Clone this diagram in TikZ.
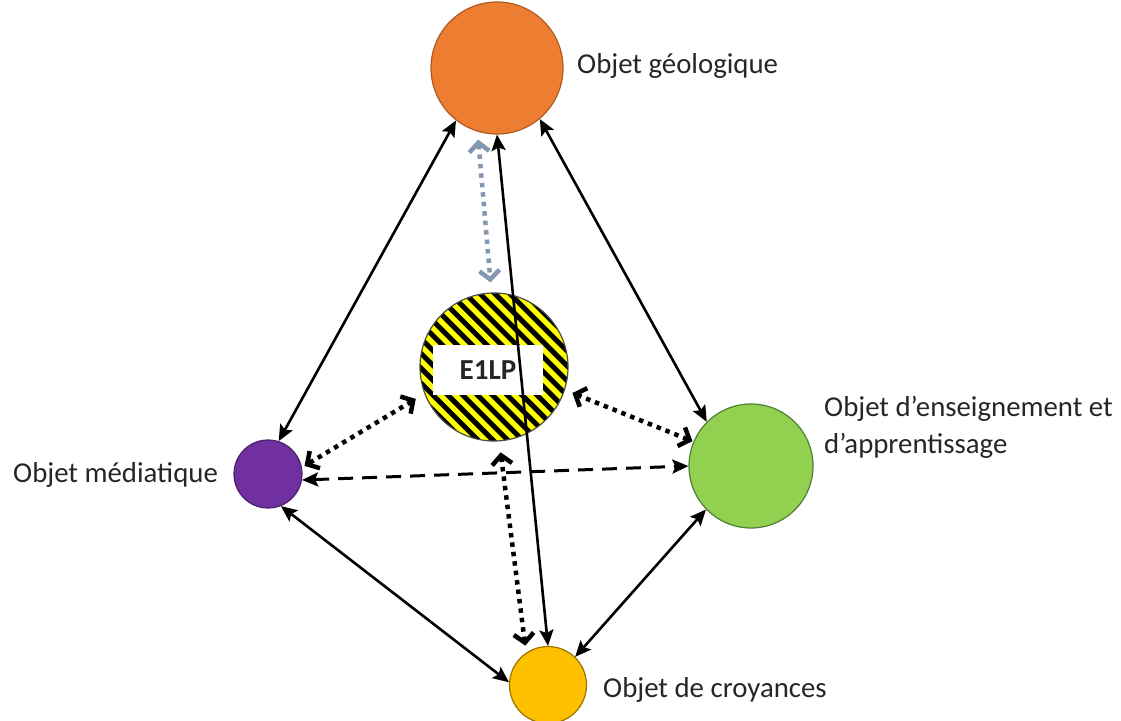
\documentclass[tikz,border=0pt]{standalone}
\usepackage{fontspec}
\setmainfont{Carlito}
\usetikzlibrary{arrows.meta}
\definecolor{cOrange}{HTML}{ED7D31}
\definecolor{cOrangeD}{HTML}{AE5A21}
\definecolor{cPurple}{HTML}{7030A0}
\definecolor{cPurpleD}{HTML}{4B1F6C}
\definecolor{cGreen}{HTML}{92D050}
\definecolor{cGreenD}{HTML}{507E32}
\definecolor{cGold}{HTML}{FFC000}
\definecolor{cGoldD}{HTML}{9A7400}
\definecolor{cYellow}{HTML}{FFFF00}
\definecolor{cGrayBlue}{HTML}{8497B0}
\definecolor{cText}{HTML}{262626}
\begin{document}
\begin{tikzpicture}[x=1pt,y=-1pt,
  obj/.style={circle, draw, line width=1.2pt, inner sep=0pt, minimum size=#1},
  lbl/.style={font=\fontsize{28.8}{37}\selectfont, text=cText, anchor=base west, inner sep=0pt, align=left},
  solidarrow/.style={line width=2.6pt, draw=black, {Stealth[length=16pt,width=14pt,inset=3pt]}-{Stealth[length=16pt,width=14pt,inset=3pt]}},
  dotarrow/.style={line width=4.5pt, dash pattern=on 4.5pt off 5pt, {Straight Barb[length=9pt,width=20pt]}-{Straight Barb[length=9pt,width=20pt]}},
  dasharrow/.style={line width=3pt, dash pattern=on 15pt off 9pt, {Stealth[length=16pt,width=14pt,inset=3pt]}-{Stealth[length=16pt,width=14pt,inset=3pt]}}
]
\useasboundingbox (0,0) rectangle (1121,720);

% objects
\node[obj=132pt, fill=cOrange, draw=cOrangeD] (geo) at (497,68) {};
\node[obj=68pt, fill=cPurple, draw=cPurpleD] (med) at (268,474) {};
\node[obj=124pt, fill=cGreen, draw=cGreenD] (ens) at (751,466) {};
\node[obj=77pt, fill=cGold, draw=cGoldD] (croy) at (548,685) {};
\node[obj=148pt, fill=cYellow, draw=black!70,
  path picture={
    \foreach \i in {-14,...,14}
      \draw[line width=5pt, black] ([xshift=\i*14.85pt]path picture bounding box.center) ++(-110,-110) -- ++(220,220);
  }] (e1lp) at (494,367) {};
\node[fill=white, minimum width=110pt, minimum height=50pt, inner sep=0pt,
  font=\bfseries\fontsize{29}{30}\selectfont, text=cText] (box) at (488,370) {E1LP};

% labels
\node[lbl] (lgeo) at (577,73) {Objet géologique};
\node[lbl] (lmed) at (13,482) {Objet médiatique};
\node[lbl] (lens) at (824,453) {Objet d’enseignement et\\d’apprentissage};
\node[lbl] (lcroy) at (603,697) {Objet de croyances};

% connectors
\draw[solidarrow] (geo.232) -- (med.72);
\draw[solidarrow] (geo.310) -- (ens.135);
\draw[solidarrow] (geo.270) -- (croy.90);
\draw[solidarrow] (med.292) -- (croy.176);
\draw[solidarrow] (ens.224) -- (croy.46);
\draw[dasharrow] (med.350) -- (ens.180);
\draw[dotarrow, draw=cGrayBlue, shorten <=8pt, shorten >=10pt] (geo.253) -- (e1lp.92);
\draw[dotarrow, shorten <=10pt, shorten >=3pt] (e1lp.201) -- (med.11);
\draw[dotarrow, shorten <=8pt, shorten >=1pt] (e1lp.342) -- (ens.157);
\draw[dotarrow, shorten <=11pt, shorten >=7pt] (e1lp.274) -- (croy.124);
\end{tikzpicture}
\end{document}
